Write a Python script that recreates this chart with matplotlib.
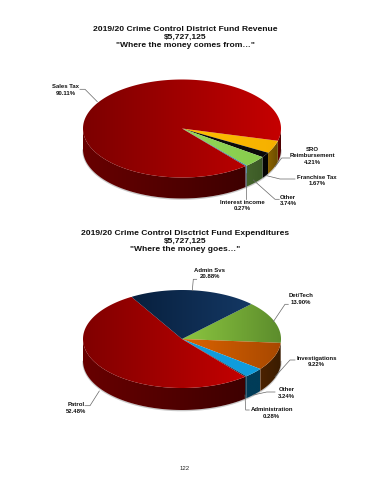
import numpy as np
import matplotlib
matplotlib.use('Agg')
import matplotlib.pyplot as plt
from matplotlib.colors import LinearSegmentedColormap
from matplotlib.patches import Polygon

plt.rcParams['font.family'] = ['Liberation Sans', 'DejaVu Sans']

# revenue data, clockwise from the right hand edge of the sales tax slice
rev_labels = ['SRO\nReimbursement', 'Franchise Tax', 'Other', 'Interest income', 'Sales Tax']
rev_values = [4.21, 1.67, 3.74, 0.27, 90.11]
# expenditure data, clockwise from the top of the det/tech slice
exp_labels = ['Det/Tech', 'Investigations', 'Other', 'Administration', 'Patrol', 'Admin Svs']
exp_values = [13.90, 9.22, 3.24, 0.28, 52.48, 20.88]

# (face left, face right, side left, side right)
rev_colors = [
    ('#ffc000', '#f5b000', '#8a6200', '#6a4c00'),
    ('#0a0a0a', '#0a0a0a', '#050505', '#050505'),
    ('#94d858', '#86cc4c', '#44642c', '#3c5a26'),
    ('#2f7f9f', '#2f7f9f', '#2f6f8f', '#2f6f8f'),
    ('#7c0000', '#c60000', '#680000', '#3e0000'),
]
exp_colors = [
    ('#8cc640', '#5c8c2c', '#4c6c24', '#3c5a20'),
    ('#dc6400', '#a84800', '#4c2200', '#3a1c00'),
    ('#109cdc', '#109cdc', '#003c58', '#003c58'),
    ('#004060', '#004060', '#002c44', '#002c44'),
    ('#800000', '#c40000', '#680000', '#3e0000'),
    ('#08203e', '#143864', '#08203e', '#143864'),
]


def grad_fill(ax, pts, c_left, c_right):
    # horizontal gradient clipped to a polygon
    patch = Polygon(pts, closed=True, facecolor='none', edgecolor='none')
    ax.add_patch(patch)
    x0, x1 = pts[:, 0].min(), pts[:, 0].max()
    y0, y1 = pts[:, 1].min(), pts[:, 1].max()
    cmap = LinearSegmentedColormap.from_list('g', [c_left, c_right])
    im = ax.imshow(np.linspace(0, 1, 256)[None, :], cmap=cmap, aspect='auto',
                   extent=(x0, x1 + 0.01, y1 + 0.01, y0), zorder=2, interpolation='bilinear')
    im.set_clip_path(patch)


def draw_pie(ax, values, colors, start, cx, cy, rx, ry, depth):
    # start is degrees counter clockwise from 3 o'clock, slices run clockwise
    total = sum(values)
    angle = start

    # soft shadow under the front edge
    t = np.radians(np.linspace(180, 360, 200))
    ax.plot(cx + rx * np.cos(t), cy - ry * np.sin(t) + depth + 0.6, color='#888888',
            lw=1.0, alpha=0.45, zorder=1)

    for val, col in zip(values, colors):
        end = angle - val / total * 360
        t = np.radians(np.linspace(angle, end, max(int(abs(end - angle) * 2), 2) + 1))
        # side wall, only the front half shows; a big slice can give two runs
        front = np.sin(t) < 0
        for run in np.split(np.arange(len(t)), np.where(np.diff(front))[0] + 1):
            if not front[run[0]] or len(run) < 2:
                continue
            tf = t[run]
            x = cx + rx * np.cos(tf)
            y = cy - ry * np.sin(tf)
            pts = np.vstack([np.c_[x, y], np.c_[x, y + depth][::-1]])
            grad_fill(ax, pts, col[2], col[3])
        x = cx + rx * np.cos(t)
        y = cy - ry * np.sin(t)
        pts = np.vstack([[cx, cy], np.c_[x, y]])
        grad_fill(ax, pts, col[0], col[1])
        angle = end


def label(ax, x, y, text):
    ax.text(x, y, text, ha='center', va='center', fontsize=4.3, fontweight='bold',
            color='#111111', linespacing=1.35, zorder=5)


def leader(ax, xs, ys):
    ax.plot(xs, ys, color='#666666', lw=0.5, zorder=4)


fig = plt.figure(figsize=(3.7, 4.8), dpi=100)
ax = fig.add_axes([0, 0, 1, 1])
ax.set_xlim(0, 370)
ax.set_ylim(480, 0)
ax.axis('off')

draw_pie(ax, rev_values, rev_colors, -14.5, 182, 128.5, 99, 49, 21)
draw_pie(ax, exp_values, exp_colors, 45.5, 182, 339, 99, 49, 22)

ax.text(185, 37.5, '2019/20 Crime Control District Fund Revenue\n$5,727,125\n"Where the money comes from\u2026"',
        ha='center', va='center', fontsize=6.1, fontweight='bold', color='#111111', linespacing=1.26)
ax.text(185, 241.5, '2019/20 Crime Control Disctrict Fund Expenditures\n$5,727,125\n"Where the money goes\u2026"',
        ha='center', va='center', fontsize=6.1, fontweight='bold', color='#111111', linespacing=1.26)

fmt = lambda lab, v: f'{lab}\n{v:.2f}%'
label(ax, 65.7, 90, fmt('Sales Tax', rev_values[4]))
label(ax, 312, 155.7, fmt(rev_labels[0], rev_values[0]))
label(ax, 316.7, 180.5, fmt(rev_labels[1], rev_values[1]))
label(ax, 288, 200.7, fmt(rev_labels[2], rev_values[2]))
label(ax, 242.7, 205.8, fmt(rev_labels[3], rev_values[3]))
leader(ax, [80, 85, 97.3], [89.3, 89.3, 101.7])
leader(ax, [290, 281.7, 275], [158, 158, 166.7])
leader(ax, [295, 280, 266.7], [179, 179, 175.7])
leader(ax, [279.3, 275, 253.3], [199.3, 199.3, 180])
leader(ax, [245.7, 245.7], [199.3, 173])

label(ax, 210, 273.8, fmt('Admin Svs', exp_values[5]))
label(ax, 301, 299, fmt(exp_labels[0], exp_values[0]))
label(ax, 316.7, 361.5, fmt(exp_labels[1], exp_values[1]))
label(ax, 286.7, 393, fmt(exp_labels[2], exp_values[2]))
label(ax, 271.7, 413, fmt(exp_labels[3], exp_values[3]))
label(ax, 76, 408, fmt(exp_labels[4], exp_values[4]))
leader(ax, [196.7, 193.3, 192.3], [279.3, 279.3, 290.7])
leader(ax, [288.3, 285, 273.3], [304.3, 304.3, 321.7])
leader(ax, [295, 290, 275], [360, 360, 376.7])
leader(ax, [275, 266.7, 253.3], [392, 392, 395])
leader(ax, [249.3, 245.7, 245], [410, 410, 395])
leader(ax, [85, 90, 99.3], [405.7, 405.7, 391])

ax.text(185, 469, '122', ha='center', va='center', fontsize=4.3, color='#222222')

fig.savefig('out.png', dpi=100, facecolor='white')
